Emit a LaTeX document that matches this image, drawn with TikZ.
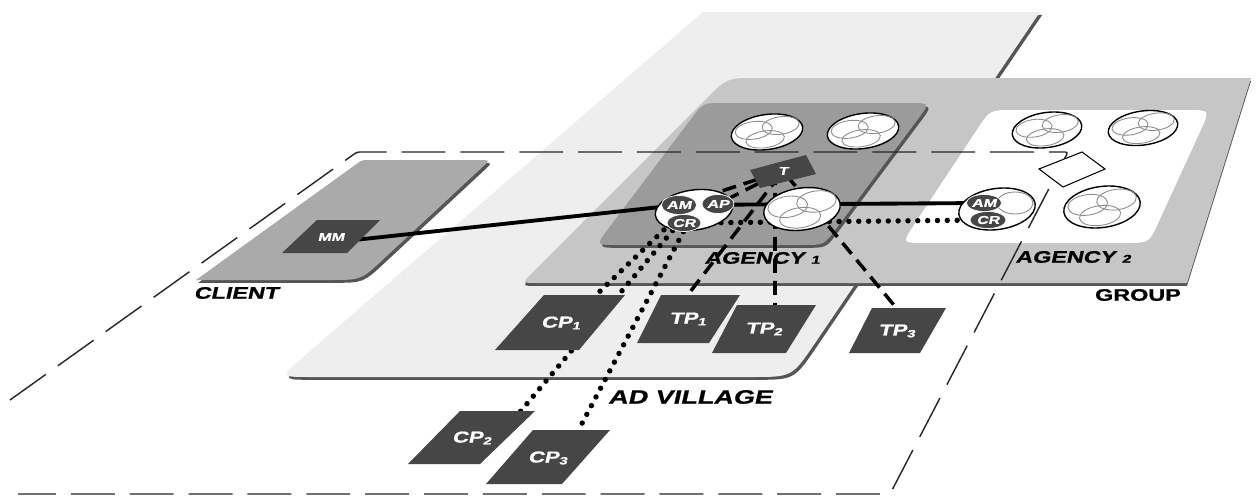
\documentclass[tikz,border=0pt]{standalone}
\usepackage{fontspec}
\newfontfamily\lblit{Liberation Sans}[FakeStretch=1.4,BoldFeatures={FakeSlant=0.22,FakeBold=1}]
\newfontfamily\lblup{Liberation Sans}[FakeStretch=1.4,BoldFeatures={FakeBold=1}]
\usetikzlibrary{calc,shapes.geometric}
\pgfdeclarelayer{planes}
\pgfdeclarelayer{lines}
\pgfsetlayers{planes,lines,main}
\definecolor{village}{HTML}{EEEEEE}
\definecolor{groupc}{HTML}{C6C6C6}
\definecolor{agencyc}{HTML}{9B9B9B}
\definecolor{clientc}{HTML}{AAAAAA}
\definecolor{boxc}{HTML}{464646}
\definecolor{shadowc}{HTML}{555555}
\definecolor{innerc}{HTML}{8C8C8C}
% rounded quadrilateral: 4 corners, 4 corner cut lengths
\newcommand\rquad[8]{($(#1)!#5!(#2)$) -- ($(#2)!#6!(#1)$) .. controls (#2) .. ($(#2)!#6!(#3)$) -- ($(#3)!#7!(#2)$) .. controls (#3) .. ($(#3)!#7!(#4)$) -- ($(#4)!#8!(#3)$) .. controls (#4) .. ($(#4)!#8!(#1)$) -- ($(#1)!#5!(#4)$) .. controls (#1) .. ($(#1)!#5!(#2)$) -- cycle}
% cluster ellipse: name, x, y, w, h
\newcommand\clover[5]{%
  \node[clov, minimum width={#4*0.02cm}, minimum height={#5*0.02cm}, rotate=8] (#1) at (#2,#3) {};
  \begin{scope}[shift={(#2,#3)}, rotate=8]
    \draw[innerline] ({-0.18*#4},{-0.1*#5}) ellipse [x radius={0.26*#4}, y radius={0.25*#5}];
    \draw[innerline] ({0.2*#4},{-0.13*#5}) ellipse [x radius={0.26*#4}, y radius={0.25*#5}];
    \draw[innerline] ({-0.04*#4},{0.2*#5}) ellipse [x radius={0.27*#4}, y radius={0.24*#5}];
  \end{scope}}
\tikzset{
  shadowed/.style={fill=shadowc, transform canvas={shift={(1.3pt,-1.6pt)}}},
  clov/.style={ellipse, draw=black, line width=0.8pt, fill=white, inner sep=0pt},
  innerline/.style={draw=innerc, line width=0.5pt},
  darkell/.style={ellipse, fill=boxc, draw=white, line width=0.4pt, inner sep=0pt, text=white,
     font=\lblit\bfseries\fontsize{6.5}{7}\selectfont},
  boxfill/.style={fill=boxc},
  boxtxt/.style={text=white, inner sep=0pt, font=\lblit\bfseries\fontsize{9}{10}\selectfont},
  lbl/.style={text=black, inner sep=0pt, font=\lblit\bfseries\fontsize{9.5}{10}\selectfont},
  solidline/.style={draw=black, line width=2.2pt},
  dotline/.style={draw=black, line width=3.1pt, dash pattern=on 0pt off 5.6pt, line cap=round},
  dashline/.style={draw=black, line width=2pt, dash pattern=on 8pt off 4.5pt},
  outline/.style={draw=black!85, line width=0.8pt, dash pattern=on 25pt off 8.5pt, rounded corners=1.5pt}
}
\begin{document}
\begin{tikzpicture}[x=0.02cm,y=-0.02cm]
\useasboundingbox (0,0) rectangle (1259,497);

\begin{pgfonlayer}{planes}
\fill[white] (0,0) rectangle (1259,497);
% AD village plane
\fill[shadowed] \rquad{703,12}{1040,12}{792,377}{280,377}{0cm}{0cm}{0.8cm}{0.6cm};
\fill[village] \rquad{703,12}{1040,12}{792,377}{280,377}{0cm}{0cm}{0.8cm}{0.6cm};
% group plane
\fill[fill=shadowc, transform canvas={shift={(0pt,-1.7pt)}}] \rquad{727,78}{1251,78}{1187,283}{522,283}{0.6cm}{0cm}{0cm}{0.3cm};
\fill[groupc] \rquad{727,78}{1251,78}{1187,283}{522,283}{0.6cm}{0cm}{0cm}{0.3cm};
% agency 1 panel
\fill[shadowed] \rquad{703,103}{930,103}{824,245}{596,245}{0.4cm}{0.4cm}{0.4cm}{0.4cm};
\fill[agencyc] \rquad{703,103}{930,103}{824,245}{596,245}{0.4cm}{0.4cm}{0.4cm}{0.4cm};
% agency 2 panel
\fill[white] \rquad{990,110}{1210,110}{1149,243}{902,243}{0.45cm}{0.45cm}{0.45cm}{0.45cm};
% client plane
\fill[shadowed] \rquad{362,160}{490,160}{361,280}{196,280}{0.05cm}{0.2cm}{0.6cm}{0cm};
\fill[clientc] \rquad{362,160}{490,160}{361,280}{196,280}{0.05cm}{0.2cm}{0.6cm}{0cm};
\end{pgfonlayer}

% ---- nodes ----
% agency 1 clusters
\clover{e11}{767}{132}{72}{35}
\clover{e12}{863}{131}{72}{35}
\clover{e13}{802}{209}{77}{42}
% agency 2 clusters
\clover{e21}{1047}{130}{70}{35}
\clover{e22}{1143}{128}{70}{34}
\clover{e23}{1102}{207}{77}{41}
\draw[black, line width=0.6pt, fill=white] (1039,169) -- (1082,152) -- (1105,169) -- (1063,187) -- cycle;

% agency 1 AM/AP/CR
\node[clov, minimum width={78*0.02cm}, minimum height={40*0.02cm}, rotate=8] (ag1c) at (694,210) {};
\node[darkell, minimum width={34*0.02cm}, minimum height={19*0.02cm}] (am1) at (679,205) {AM};
\node[darkell, minimum width={32*0.02cm}, minimum height={19*0.02cm}] (ap1) at (718,204) {AP};
\node[darkell, minimum width={34*0.02cm}, minimum height={17*0.02cm}] (cr1) at (684,223) {CR};
% agency 2 AM/CR
\node[clov, minimum width={77*0.02cm}, minimum height={41*0.02cm}, rotate=8] (ag2c) at (997,209) {};
\draw[innerline] (1015,203) ellipse [x radius=18, y radius=11];
\node[darkell, minimum width={34*0.02cm}, minimum height={17*0.02cm}] (am2) at (984,203) {AM};
\node[darkell, minimum width={36*0.02cm}, minimum height={17*0.02cm}] (cr2) at (988,220) {CR};

% T
\fill[boxfill] (750,170) -- (806,155) -- (816,174) -- (760,188) -- cycle;
\node[boxtxt, font=\lblit\bfseries\fontsize{6.5}{7}\selectfont] (t) at (783,171) {T};
% MM
\fill[boxfill] (317,220) -- (380,220) -- (347,253) -- (282,253) -- cycle;
\node[boxtxt, font=\lblit\bfseries\fontsize{6.5}{7}\selectfont] (mm) at (331,237) {MM};
% CP / TP boxes
\fill[boxfill] (544,295) -- (625,295) -- (579,350) -- (495,350) -- cycle;
\node[boxtxt] (cp1) at (561,323) {CP\textsubscript{1}};
\fill[boxfill] (661,295) -- (740,295) -- (709,343) -- (637,343) -- cycle;
\node[boxtxt] (tp1) at (688,319) {TP\textsubscript{1}};
\fill[boxfill] (737,305) -- (816,305) -- (786,353) -- (712,353) -- cycle;
\node[boxtxt] (tp2) at (764,329) {TP\textsubscript{2}};
\fill[boxfill] (872,308) -- (946,308) -- (920,353) -- (849,353) -- cycle;
\node[boxtxt] (tp3) at (897,331) {TP\textsubscript{3}};
\fill[boxfill] (460,411) -- (535,411) -- (480,464) -- (408,464) -- cycle;
\node[boxtxt] (cp2) at (472,438) {CP\textsubscript{2}};
\fill[boxfill] (533,430) -- (610,430) -- (562,484) -- (486,484) -- cycle;
\node[boxtxt] (cp3) at (548,458) {CP\textsubscript{3}};

% connection points on box tops
\coordinate (mmr) at (345,241);
\coordinate (cp1t) at (595,296);
\coordinate (cp2t) at (520,412);
\coordinate (cp3t) at (578,431);
\coordinate (tp1t) at (687,296);
\coordinate (tp2t) at (775,306);
\coordinate (tp3t) at (898,310);

% ---- connectors ----
\begin{pgfonlayer}{lines}
\draw[outline] (10,400) -- (357,152) -- (1068,152) -- (890,494) -- (18,494);
\draw[solidline] (mmr) -- (am1);
\draw[solidline] (am1) -- (am2);
\draw[dotline] (cr1) -- (cr2);
\draw[dotline] ([xshift=-0.26cm]cr1.center) -- (cp1t);
\draw[dotline] ([xshift=-0.1cm]cr1.center) -- (cp2t);
\draw[dotline] ([xshift=0.08cm]cr1.center) -- (cp3t);
\draw[dashline] (t) -- (am1);
\draw[dashline] (t) -- (ap1);
\draw[dashline] (t) -- (tp1t);
\draw[dashline] ([xshift=-0.16cm]t.center) -- (tp2t);
\draw[dashline] (t) -- (tp3t);
\end{pgfonlayer}

% ---- labels ----
\node[lbl] (lclient) at (236,293) {CLIENT};
\node[lbl] (lag1) at (762,258) {AGENCY {\fontsize{6.5}{7}\selectfont 1}};
\node[lbl] (lag2) at (1073,257) {AGENCY {\fontsize{6.5}{7}\selectfont 2}};
\node[lbl, font=\lblup\bfseries\fontsize{9.5}{10}\selectfont] (lgroup) at (1138,295) {GROUP};
\node[lbl, font=\lblit\bfseries\fontsize{11}{12}\selectfont] (lvillage) at (690,397) {AD VILLAGE};
\end{tikzpicture}
\end{document}
